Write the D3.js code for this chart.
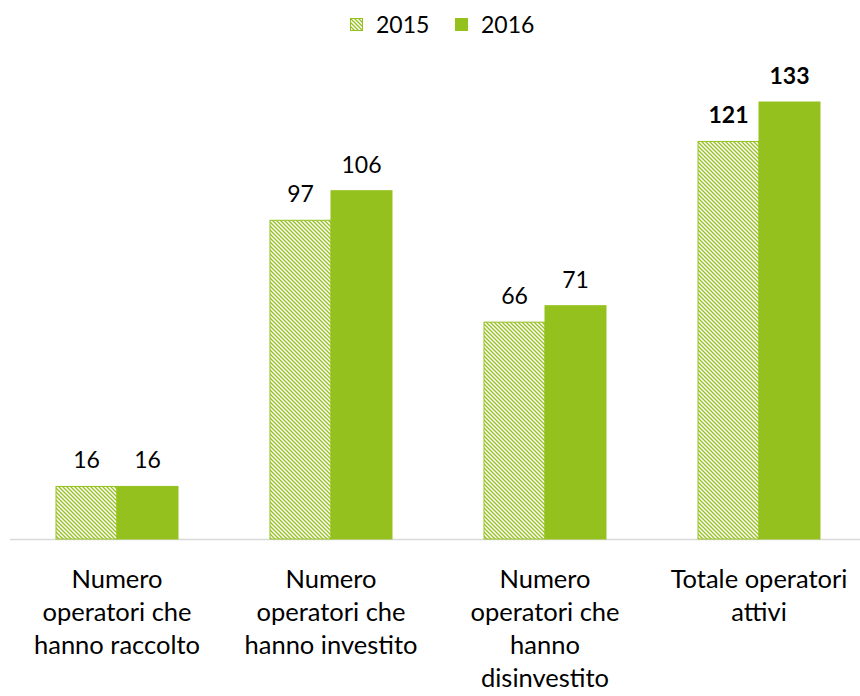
<!DOCTYPE html>
<html>
<head>
<meta charset="utf-8">
<script src="https://cdn.jsdelivr.net/npm/d3@7.9.0/dist/d3.min.js"></script>
<style>
  body { margin: 0; background: #fff; }
  svg { font-family: Lato, 'Open Sans', sans-serif; }
</style>
</head>
<body>
<svg id="chart" width="860" height="696"></svg>
<script>
const categories = [
  ['Numero', 'operatori che', 'hanno raccolto'],
  ['Numero', 'operatori che', 'hanno investito'],
  ['Numero', 'operatori che', 'hanno', 'disinvestito'],
  ['Totale operatori', 'attivi']
];
const years = ['2015', '2016'];
const values2015 = [16, 97, 66, 121];
const values2016 = [16, 106, 71, 133];

const green = '#95c11f';
const svg = d3.select('#chart');

// hatch pattern for 2015 (downward diagonal)
const defs = svg.append('defs');
const pat = defs.append('pattern')
  .attr('id', 'hatch')
  .attr('patternUnits', 'userSpaceOnUse')
  .attr('width', 4).attr('height', 4);
pat.append('rect').attr('width', 4).attr('height', 4).attr('fill', '#fff');
pat.append('path')
  .attr('d', 'M-1,-1L5,5M-1,3L1,5M3,-1L5,1')
  .attr('stroke', green).attr('stroke-width', 1.3);

const baseY = 539;
const x = d3.scaleBand().domain(d3.range(categories.length)).range([10, 866]);
const inner = d3.scaleBand().domain(years).range([46, 168]);
const y = d3.scaleLinear().domain([0, 133]).range([baseY, 102]);

// axis line
svg.append('line')
  .attr('x1', 10).attr('x2', 860)
  .attr('y1', baseY + 0.5).attr('y2', baseY + 0.5)
  .attr('stroke', '#d9d9d9').attr('stroke-width', 1.5);

const series = [
  { year: '2015', vals: values2015, fill: 'url(#hatch)' },
  { year: '2016', vals: values2016, fill: green }
];

series.forEach(s => {
  const g = svg.append('g');
  g.selectAll('rect')
    .data(s.vals)
    .join('rect')
    .attr('x', (d, i) => x(i) + inner(s.year))
    .attr('width', inner.bandwidth())
    .attr('y', d => y(d))
    .attr('height', d => baseY - y(d))
    .attr('fill', s.fill)
    .attr('stroke', green)
    .attr('stroke-width', 1);

  g.selectAll('text')
    .data(s.vals)
    .join('text')
    .attr('x', (d, i) => x(i) + inner(s.year) + inner.bandwidth() / 2)
    .attr('y', d => y(d) - 18)
    .attr('text-anchor', 'middle')
    .attr('font-size', 23)
    .attr('font-weight', (d, i) => i === 3 ? 'bold' : 'normal')
    .attr('fill', '#000')
    .text(d => d);
});

// category labels
categories.forEach((lines, i) => {
  const t = svg.append('text')
    .attr('text-anchor', 'middle')
    .attr('font-size', 25.5)
    .attr('fill', '#000');
  lines.forEach((line, j) => {
    t.append('tspan')
      .attr('x', x(i) + x.bandwidth() / 2)
      .attr('y', 588 + j * 33)
      .text(line);
  });
});

// legend
const legend = svg.append('g');
const legendItems = [
  { label: '2015', fill: 'url(#hatch)', x: 350 },
  { label: '2016', fill: green, x: 455 }
];
legendItems.forEach(d => {
  legend.append('rect')
    .attr('x', d.x + 0.5).attr('y', 18.5)
    .attr('width', 12).attr('height', 12)
    .attr('fill', d.fill).attr('stroke', green);
  legend.append('text')
    .attr('x', d.x + 26).attr('y', 33)
    .attr('font-size', 23)
    .text(d.label);
});
</script>
</body>
</html>
